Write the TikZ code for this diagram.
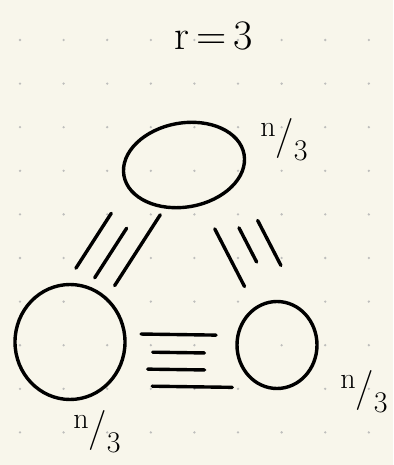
\documentclass[tikz,border=0pt]{standalone}
\usetikzlibrary{shapes.geometric,calc}
\definecolor{paper}{RGB}{248,246,235}
\definecolor{griddot}{RGB}{190,190,188}
\newcommand{\nthird}{\raisebox{0.3em}{\fontsize{30}{30}\selectfont n}/\raisebox{-0.3em}{\fontsize{30}{30}\selectfont 3}}
\tikzset{
  part/.style={draw,ellipse,line width=3.4pt,inner sep=0pt},
  stroke/.style={line width=3.4pt,line cap=round},
  tag/.style={font=\fontsize{40}{42}\selectfont,inner sep=0pt}
}
\begin{document}
\begin{tikzpicture}[x=1pt,y=-1pt]
\fill[paper] (0,0) rectangle (393,465);
\foreach \i in {0,...,8} {
  \foreach \j in {0,...,9} {
    \fill[griddot] (20+43.6*\i,40+43.6*\j) circle (1.3pt);
  }
}
\node[font=\fontsize{42}{46}\selectfont] (title) at (214,36) {r\,=\,3};
% the three parts
\node[part,minimum width=122pt,minimum height=84pt,rotate=10] (top) at (184,165) {};
\node[part,minimum width=110pt,minimum height=115pt] (left) at (70,342) {};
\node[part,minimum width=80pt,minimum height=87pt] (right) at (277,345) {};
\node[tag] (toptag) at (284,140) {\nthird};
\node[tag] (righttag) at (364,392) {\nthird};
\node[tag] (lefttag) at (97,432) {\nthird};
% edges between the parts
\foreach \p/\q/\ts/\te/\off in {
  top/left/0.38/0.69/-35pt, top/left/0.40/0.68/-14pt, top/left/0.26/0.66/7pt,
  top/right/0.35/0.67/-2pt, top/right/0.40/0.59/20pt, top/right/0.41/0.66/40pt,
  left/right/0.343/0.705/9pt, left/right/0.40/0.65/-9pt,
  left/right/0.377/0.652/-26pt, left/right/0.40/0.787/-43pt
} {
  \draw[stroke] ($(\p)!\ts!(\q)!\off!90:(\q)$) -- ($(\p)!\te!(\q)!\off!90:(\q)$);
}
\end{tikzpicture}
\end{document}
